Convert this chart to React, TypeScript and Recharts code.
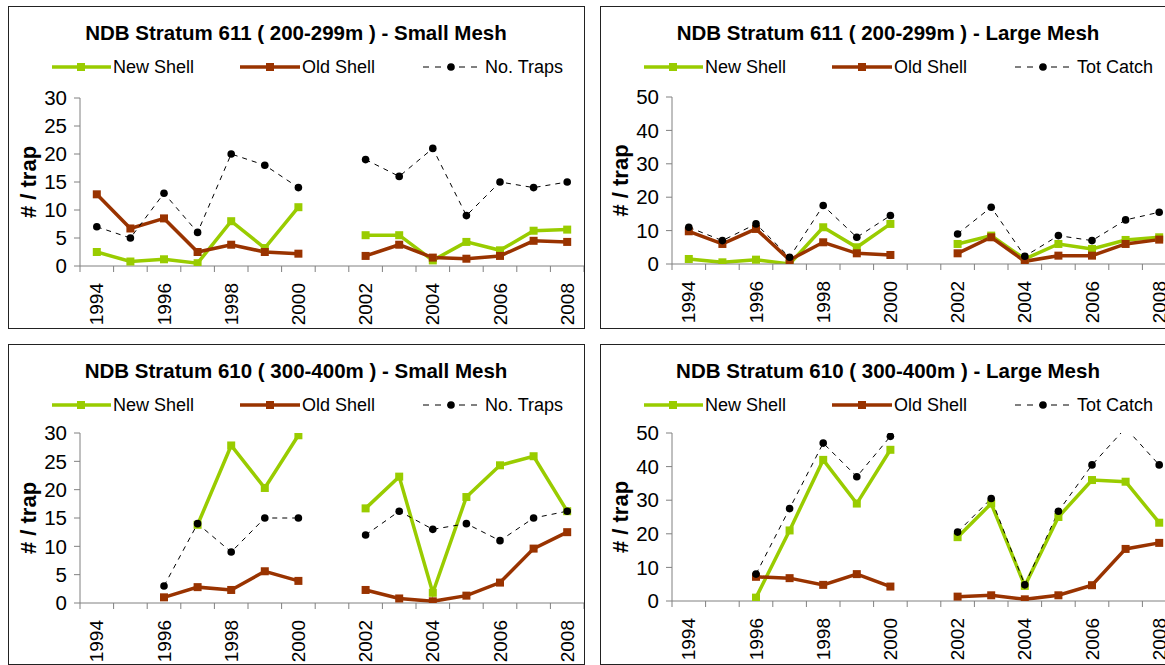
import React from 'react'
import { LineChart, Line, XAxis, YAxis } from 'recharts'

const years = [1994, 1995, 1996, 1997, 1998, 1999, 2000, 2001, 2002, 2003, 2004, 2005, 2006, 2007, 2008]
const labelYears = [1994, 1996, 1998, 2000, 2002, 2004, 2006, 2008]
const borderYears = [1993.5, 1994.5, 1995.5, 1996.5, 1997.5, 1998.5, 1999.5, 2000.5, 2001.5, 2002.5, 2003.5, 2004.5, 2005.5, 2006.5, 2007.5, 2008.5]
const xTicks = [...borderYears, ...labelYears].sort((a, b) => a - b)

const smallTicks = [0, 5, 10, 15, 20, 25, 30]
const largeTicks = [0, 10, 20, 30, 40, 50]

// Stratum 611, small mesh
const newShell611S = [2.5, 0.8, 1.2, 0.5, 8, 3.2, 10.5, null, 5.5, 5.5, 1, 4.3, 2.8, 6.3, 6.5]
const oldShell611S = [12.8, 6.7, 8.5, 2.5, 3.8, 2.5, 2.2, null, 1.8, 3.8, 1.5, 1.3, 1.8, 4.5, 4.3]
const traps611S = [7, 5, 13, 6, 20, 18, 14, null, 19, 16, 21, 9, 15, 14, 15]

// Stratum 611, large mesh
const newShell611L = [1.5, 0.5, 1.3, 0, 11, 5, 12, null, 6, 8.5, 1.5, 6, 4.5, 7.2, 8]
const oldShell611L = [9.8, 6, 10.5, 1.2, 6.5, 3.2, 2.7, null, 3.2, 8, 0.8, 2.5, 2.5, 6, 7.3]
const catch611L = [11, 7, 12, 2, 17.5, 8, 14.5, null, 9, 17, 2.3, 8.5, 7, 13.2, 15.5]

// Stratum 610, small mesh
const newShell610S = [null, null, null, 13.8, 27.8, 20.3, 29.6, null, 16.7, 22.3, 1.8, 18.7, 24.3, 25.9, 16.2]
const oldShell610S = [null, null, 1, 2.8, 2.3, 5.6, 3.9, null, 2.3, 0.8, 0.3, 1.3, 3.6, 9.6, 12.5]
const traps610S = [null, null, 3, 14, 9, 15, 15, null, 12, 16.2, 13, 14, 11, 15, 16.2]

// Stratum 610, large mesh
const newShell610L = [null, null, 1, 21, 42, 29, 45, null, 19, 29, 4.5, 25, 36, 35.5, 23.3]
const oldShell610L = [null, null, 7.2, 6.8, 4.8, 8, 4.3, null, 1.3, 1.7, 0.5, 1.7, 4.7, 15.5, 17.3]
const catch610L = [null, null, 8, 27.5, 47, 37, 49, null, 20.5, 30.5, 4.8, 26.7, 40.5, 51.5, 40.5]

const GREEN = '#99CC00'
const BROWN = '#993300'
const AXIS = '#808080'
const FONT = '"Liberation Sans", Arial, sans-serif'

const XTick = (props: any) => {
  const { x, y, payload } = props
  const v = payload.value
  if (!Number.isInteger(v)) {
    return <line x1={x} y1={y} x2={x} y2={y + 6} stroke={AXIS} />
  }
  if (v % 2 !== 0) return <g />
  return (
    <text
      x={x}
      y={y + 17}
      transform={`rotate(-90 ${x} ${y + 17})`}
      textAnchor="end"
      dominantBaseline="central"
      fontSize={19}
      fontFamily={FONT}
      fill="#000"
    >
      {v}
    </text>
  )
}

const squareDot = (color: string) => (p: any) => {
  if (p.cy == null || p.value == null) return <g key={p.index} />
  return <rect key={p.index} x={p.cx - 4} y={p.cy - 4} width={8} height={8} fill={color} />
}

const roundDot = (p: any) => {
  if (p.cy == null || p.value == null) return <g key={p.index} />
  return <circle key={p.index} cx={p.cx} cy={p.cy} r={3.8} fill="#000" />
}

const Legend3 = ({ third }: { third: string }) => (
  <svg width={576} height={22} style={{ position: 'absolute', left: 0, top: 50 }}>
    <line x1={44} y1={11} x2={103} y2={11} stroke={GREEN} strokeWidth={3.5} />
    <rect x={69} y={7} width={8} height={8} fill={GREEN} />
    <text x={105} y={11} dominantBaseline="central" fontSize={18} fontFamily={FONT}>New Shell</text>
    <line x1={232} y1={11} x2={292} y2={11} stroke={BROWN} strokeWidth={3.5} />
    <rect x={258} y={7} width={8} height={8} fill={BROWN} />
    <text x={294} y={11} dominantBaseline="central" fontSize={18} fontFamily={FONT}>Old Shell</text>
    <line x1={415} y1={11} x2={470} y2={11} stroke="#000" strokeWidth={1} strokeDasharray="6 6" />
    <circle cx={443} cy={11} r={3.8} fill="#000" />
    <text x={477} y={11} dominantBaseline="central" fontSize={18} fontFamily={FONT}>{third}</text>
  </svg>
)

interface PanelProps {
  left: number
  top: number
  height: number
  plotTop: number
  plotBottom: number
  title: string
  third: string
  yMax: number
  yTicks: number[]
  newShell: (number | null)[]
  oldShell: (number | null)[]
  other: (number | null)[]
}

const Panel: React.FC<PanelProps> = ({
  left, top, height, plotTop, plotBottom, title, third, yMax, yTicks, newShell, oldShell, other
}) => {
  const data = years.map((year, i) => ({
    year,
    newShell: newShell[i],
    oldShell: oldShell[i],
    other: other[i]
  }))
  return (
    <div style={{ position: 'absolute', left, top, width: 577, height }}>
      <div
        style={{
          position: 'absolute',
          left: 0,
          top: 0,
          width: 577,
          height,
          border: '1px solid #222',
          boxSizing: 'border-box'
        }}
      />
      <div
        style={{
          position: 'absolute',
          left: 0,
          top: 15,
          width: 576,
          textAlign: 'center',
          fontFamily: FONT,
          fontWeight: 'bold',
          fontSize: 20.5,
          lineHeight: '24px',
          color: '#000'
        }}
      >
        {title}
      </div>
      <Legend3 third={third} />
      <div style={{ position: 'absolute', left: 0, top: 0 }}>
        <LineChart
          width={576}
          height={height - 1}
          data={data}
          margin={{ top: plotTop, right: 0, left: 0, bottom: 0 }}
        >
          <XAxis
            dataKey="year"
            type="number"
            domain={[1993.5, 2008.5]}
            ticks={xTicks}
            interval={0}
            tick={<XTick />}
            tickLine={false}
            tickSize={0}
            tickMargin={0}
            axisLine={{ stroke: AXIS }}
            height={height - 1 - plotBottom}
          />
          <YAxis
            type="number"
            domain={[0, yMax]}
            ticks={yTicks}
            interval={0}
            allowDataOverflow
            width={72}
            tickSize={6}
            tickMargin={7}
            tickLine={{ stroke: AXIS }}
            axisLine={{ stroke: AXIS }}
            tick={{ fontSize: 20.5, fontFamily: FONT, fill: '#000' }}
            label={(p: any) => {
              const vb = p.viewBox
              const cx = 20
              const cy = vb.y + vb.height / 2
              return (
                <text
                  x={cx}
                  y={cy}
                  transform={`rotate(-90 ${cx} ${cy})`}
                  textAnchor="middle"
                  dominantBaseline="central"
                  fontSize={22}
                  fontWeight="bold"
                  fontFamily={FONT}
                  fill="#000"
                >
                  # / trap
                </text>
              )
            }}
          />
          <Line
            type="linear"
            dataKey="newShell"
            stroke={GREEN}
            strokeWidth={3.5}
            dot={squareDot(GREEN)}
            activeDot={false}
            isAnimationActive={false}
          />
          <Line
            type="linear"
            dataKey="oldShell"
            stroke={BROWN}
            strokeWidth={3.5}
            dot={squareDot(BROWN)}
            activeDot={false}
            isAnimationActive={false}
          />
          <Line
            type="linear"
            dataKey="other"
            stroke="#000"
            strokeWidth={1}
            strokeDasharray="5 5"
            dot={roundDot}
            activeDot={false}
            isAnimationActive={false}
          />
        </LineChart>
      </div>
    </div>
  )
}

export default function App() {
  return (
    <div style={{ position: 'absolute', left: 0, top: 0, width: 1165, height: 665, overflow: 'hidden', background: '#fff' }}>
      <Panel
        left={8}
        top={6}
        height={323}
        plotTop={92}
        plotBottom={260}
        title="NDB Stratum 611 ( 200-299m ) - Small Mesh"
        third="No. Traps"
        yMax={30}
        yTicks={smallTicks}
        newShell={newShell611S}
        oldShell={oldShell611S}
        other={traps611S}
      />
      <Panel
        left={600}
        top={6}
        height={323}
        plotTop={91}
        plotBottom={258}
        title="NDB Stratum 611 ( 200-299m ) - Large Mesh"
        third="Tot Catch"
        yMax={50}
        yTicks={largeTicks}
        newShell={newShell611L}
        oldShell={oldShell611L}
        other={catch611L}
      />
      <Panel
        left={8}
        top={344}
        height={321}
        plotTop={89}
        plotBottom={259}
        title="NDB Stratum 610 ( 300-400m ) - Small Mesh"
        third="No. Traps"
        yMax={30}
        yTicks={smallTicks}
        newShell={newShell610S}
        oldShell={oldShell610S}
        other={traps610S}
      />
      <Panel
        left={600}
        top={344}
        height={321}
        plotTop={89}
        plotBottom={257}
        title="NDB Stratum 610 ( 300-400m ) - Large Mesh"
        third="Tot Catch"
        yMax={50}
        yTicks={largeTicks}
        newShell={newShell610L}
        oldShell={oldShell610L}
        other={catch610L}
      />
    </div>
  )
}
